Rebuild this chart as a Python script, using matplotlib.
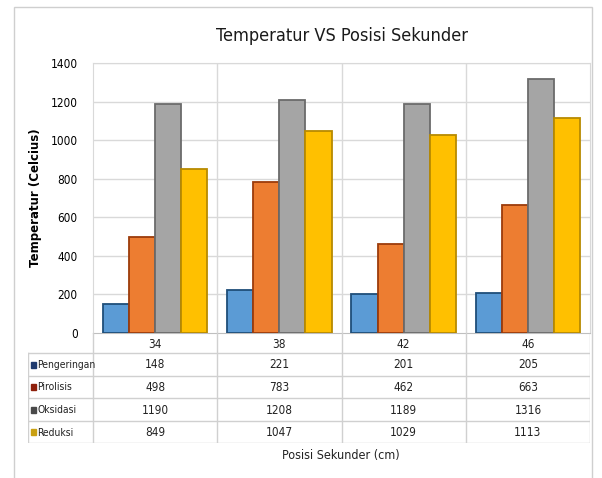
import matplotlib
matplotlib.use('Agg')
import matplotlib.pyplot as plt
from matplotlib.patches import Rectangle
from matplotlib.lines import Line2D
from matplotlib import font_manager

categories = ['34', '38', '42', '46']
series_names = ['Pengeringan', 'Pirolisis', 'Oksidasi', 'Reduksi']
pengeringan = [148, 221, 201, 205]
pirolisis = [498, 783, 462, 663]
oksidasi = [1190, 1208, 1189, 1316]
reduksi = [849, 1047, 1029, 1113]
yticks = [0, 200, 400, 600, 800, 1000, 1200, 1400]

series_values = [pengeringan, pirolisis, oksidasi, reduksi]
face_colors = ['#5B9BD5', '#ED7D31', '#A5A5A5', '#FFC000']
edge_colors = ['#1F4E79', '#9C3B0B', '#6B6B6B', '#B88A00']
key_colors = ['#1F3A6E', '#8E1F0B', '#4A4A4A', '#C9A012']

fl = font_manager.fontManager.ttflist
names = {f.name for f in fl}
has_dv_cond = any(f.name == 'DejaVu Sans' and 'Condensed' in f.fname for f in fl)
if 'Liberation Sans Narrow' in names:
    fam, stretch, tag = 'Liberation Sans Narrow', 'normal', 'LN'
elif has_dv_cond:
    fam, stretch, tag = 'DejaVu Sans', 'condensed', 'DC'
else:
    fam, stretch, tag = 'Lato', 'normal', 'LA'
plt.rcParams['font.family'] = [fam, 'DejaVu Sans']
plt.rcParams['font.stretch'] = stretch

sz = 8.5 if tag != 'LA' else 8
W, H = 602, 478
fig = plt.figure(figsize=(W / 100, H / 100), dpi=100)
fig.patch.set_facecolor('white')


def px(x0, y0, x1, y1):
    return [x0 / W, 1 - y1 / H, (x1 - x0) / W, (y1 - y0) / H]


# outer chart border
fig.patches.append(Rectangle((14 / W, -0.05), (592 - 14) / W, 1.05 - 7 / H,
                             transform=fig.transFigure, fill=False,
                             edgecolor='#CFCFCF', linewidth=1.0))

grid_c = '#D9D9D9'
ax = fig.add_axes(px(93, 63, 590, 333))
n = len(categories)
bw = 0.21
for k, vals in enumerate(series_values):
    offs = (k - 1.5) * bw
    ax.bar([i + offs for i in range(n)], vals, width=bw,
           color=face_colors[k], edgecolor=edge_colors[k], linewidth=1.3,
           zorder=3)
ax.set_xlim(-0.5, n - 0.5)
ax.set_ylim(0, 1400)
ax.set_yticks(yticks)
ax.set_yticklabels([str(v) for v in yticks], fontsize=sz)
ax.set_xticks([])
ax.tick_params(axis='y', length=0, pad=11)
for v in yticks[1:]:
    ax.axhline(v, color=grid_c, linewidth=1, zorder=1)
for b in [i + 0.5 for i in range(n - 1)]:
    ax.axvline(b, color=grid_c, linewidth=1, zorder=1)
for s in ['left', 'right', 'top']:
    ax.spines[s].set_color(grid_c)
ax.spines['bottom'].set_color('#BFBFBF')
ax.set_facecolor('none')
ax.set_ylabel('Temperatur (Celcius)', fontsize=8.5, fontweight='bold',
              family='DejaVu Sans', fontstretch='normal', labelpad=6)
ax.set_title('Temperatur VS Posisi Sekunder', fontsize=13, pad=16,
             color='#1A1A1A')

# data table
tab = fig.add_axes(px(28, 333, 590, 443))
col_w = (590 - 93) / n
left = -0.5 - (93 - 28) / col_w
tab.set_xlim(left, n - 0.5)
tab.set_ylim(443, 333)
tab.axis('off')
rows = [333, 353, 376, 398, 421, 443]
line_c = '#D0D0D0'
for y in rows[1:]:
    tab.add_line(Line2D([left, n - 0.5], [y, y], color=line_c, lw=1))
tab.add_line(Line2D([left, left], [rows[1], rows[-1]], color=line_c, lw=1))
for b in [i - 0.5 for i in range(n + 1)]:
    tab.add_line(Line2D([b, b], [rows[0], rows[-1]], color=line_c, lw=1))
for i, c in enumerate(categories):
    tab.text(i, (rows[0] + rows[1]) / 2 + 1, c, ha='center', va='center',
             fontsize=sz, color='#222222')
key_w = 5 / col_w
name_sz = 7.4
for r, (name, vals) in enumerate(zip(series_names, series_values)):
    yc = (rows[r + 1] + rows[r + 2]) / 2
    tab.add_patch(Rectangle((left + 3 / col_w, yc - 3), key_w, 6,
                            color=key_colors[r]))
    tab.text(left + 9 / col_w, yc + 0.5, name, ha='left', va='center',
             fontsize=name_sz, color='#222222')
    for i, v in enumerate(vals):
        tab.text(i, yc + 0.5, str(v), ha='center', va='center', fontsize=sz,
                 color='#222222')

fig.text(341 / W, 1 - 455 / H, 'Posisi Sekunder (cm)', ha='center',
         va='center', fontsize=9, color='#222222')

fig.savefig('out.png', dpi=100, facecolor='white')
